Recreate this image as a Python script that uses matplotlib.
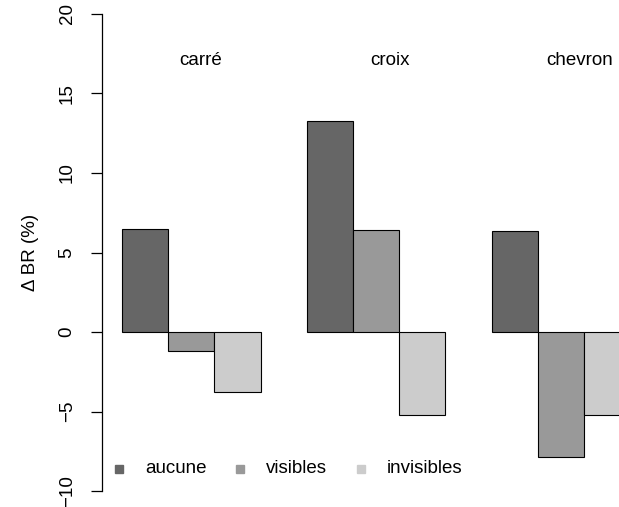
import matplotlib.pyplot as plt
import numpy as np

plt.rcParams['font.family'] = ['Liberation Sans', 'DejaVu Sans']

# delta BR (%) par forme et par type de marque
formes = ['carré', 'croix', 'chevron']
marques = ['aucune', 'visibles', 'invisibles']
aucune = [6.5, 13.25, 6.35]
visibles = [-1.2, 6.4, -7.85]
invisibles = [-3.8, -5.25, -5.25]
couleurs = ['#666666', '#999999', '#cccccc']
yticks = [-10, -5, 0, 5, 10, 15, 20]

fig = plt.figure(figsize=(6.19, 5.07), dpi=100)
ax = fig.add_axes([102/619, 16/507, 1 - 102/619, 477/507])

# barplot(beside=TRUE) : groupes de 3 barres separes par 1 barre vide
series = [aucune, visibles, invisibles]
for j, (vals, col) in enumerate(zip(series, couleurs)):
    x = 1 + np.arange(len(formes)) * 4 + j
    ax.bar(x, vals, width=1, align='edge', color=col,
           edgecolor='black', linewidth=0.8)

# noms des formes au-dessus des groupes
for i, nom in enumerate(formes):
    ax.text(2.7 + i * 4.1, 17.1, nom, ha='center', va='center', fontsize=13.5)

# legende faite a la main
for j, (nom, col) in enumerate(zip(marques, couleurs)):
    x0 = 0.94 + j * 2.62
    ax.plot(x0, -8.6, 's', color=col, markersize=6)
    ax.text(x0 + 0.56, -8.6, nom, ha='left', va='center', fontsize=13.5)

ax.set_xlim(0.567, 11.76)
ax.set_ylim(-10, 20)
for s in ['top', 'right', 'bottom']:
    ax.spines[s].set_visible(False)
ax.spines['left'].set_linewidth(0.9)
ax.set_xticks([])
ax.set_yticks(yticks)
ax.set_yticklabels([str(v).replace('-', '\u2212') for v in yticks],
                   rotation=90, va='center', fontsize=13.5)
ax.tick_params(axis='y', length=8, width=0.9, pad=11)
ax.set_ylabel('\u0394 BR (%)', fontsize=13.5, labelpad=14)

fig.savefig('out.png', dpi=100)
